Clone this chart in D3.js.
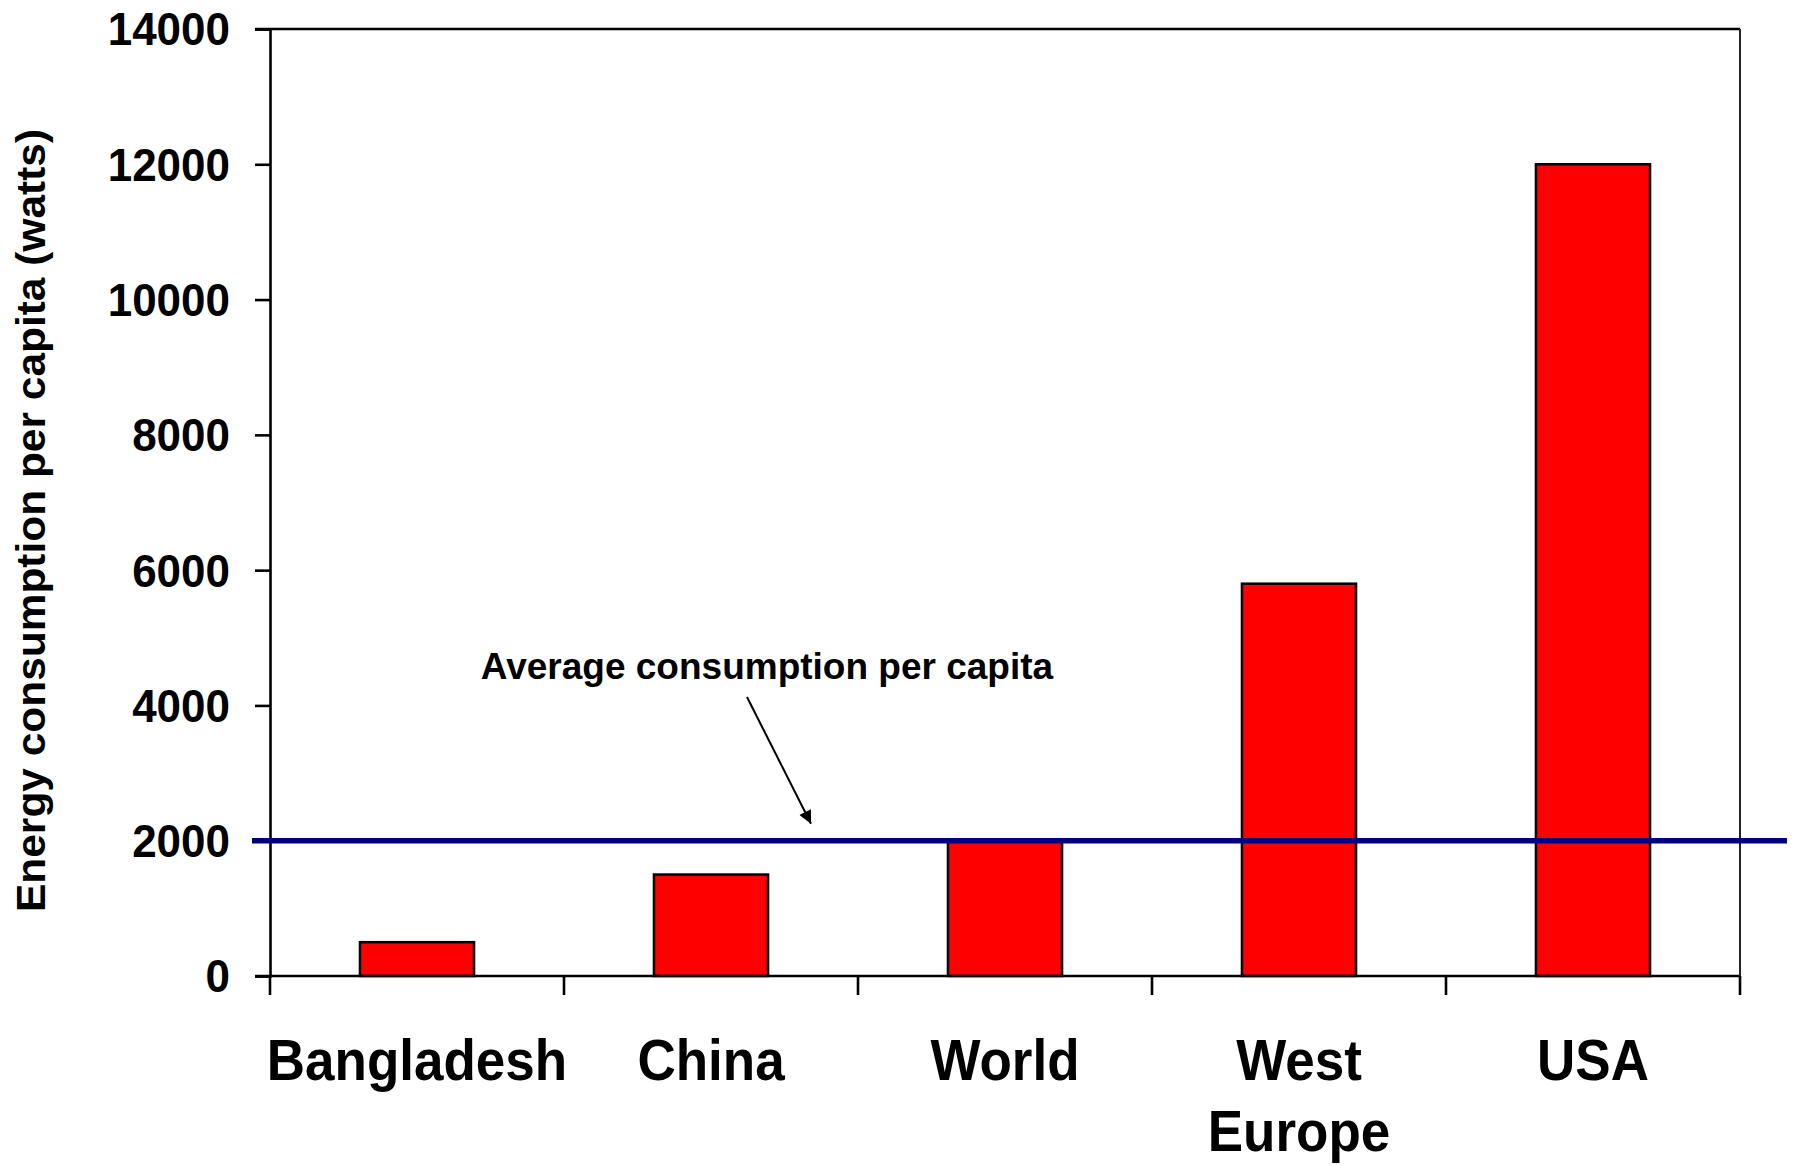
<!DOCTYPE html>
<html>
<head>
<meta charset="utf-8">
<script src="https://cdn.jsdelivr.net/npm/d3@7"></script>
<style>
  html, body { margin: 0; padding: 0; background: #fff; }
  svg { display: block; font-family: "Liberation Sans", Arial, Helvetica, sans-serif; font-weight: bold; }
</style>
</head>
<body>
<svg id="chart" width="1793" height="1166"></svg>
<script>
// ---- data ----
const categories = ["Bangladesh", "China", "World", "West Europe", "USA"];
const values = [500, 1500, 2000, 5800, 12000];
const yTicks = [0, 2000, 4000, 6000, 8000, 10000, 12000, 14000];
const averageValue = 2000;
const yTitle = "Energy consumption per capita (watts)";
const annotation = "Average consumption per capita";

// ---- layout ----
const L = 270, R = 1740, T = 29, B = 976;
const svg = d3.select("#chart");

const x = d3.scaleBand().domain(categories).range([L, R]).padding(0);
const y = d3.scaleLinear().domain([0, 14000]).range([B, T]);
const barW = x.bandwidth() * 0.388;

// bars
svg.append("g").selectAll("rect").data(categories).join("rect")
  .attr("x", d => x(d) + x.bandwidth() / 2 - barW / 2)
  .attr("y", (d, i) => y(values[i]))
  .attr("width", barW)
  .attr("height", (d, i) => y(0) - y(values[i]))
  .attr("fill", "#ff0000")
  .attr("stroke", "#000")
  .attr("stroke-width", 2.5);

// y axis
const yAxis = svg.append("g")
  .attr("transform", `translate(${L},0)`)
  .call(d3.axisLeft(y).tickValues(yTicks).tickSize(15).tickPadding(25).tickFormat(d3.format("d")));
yAxis.select(".domain").attr("stroke", "#000").attr("stroke-width", 2.6);
yAxis.selectAll(".tick line").attr("stroke", "#000").attr("stroke-width", 2.6);
yAxis.selectAll(".tick text")
  .attr("font-size", 44).attr("font-weight", "bold").attr("fill", "#000")
  .attr("font-family", '"Liberation Sans", Arial, sans-serif')
  .attr("dy", "0.34em")
  .attr("transform", "scale(1,1.06)");

// x axis line
svg.append("line").attr("x1", L - 15).attr("x2", R).attr("y1", B).attr("y2", B)
  .attr("stroke", "#000").attr("stroke-width", 2.6);
// x ticks at band edges
const edges = categories.map(c => x(c)).concat([x(categories[categories.length - 1]) + x.bandwidth()]);
svg.append("g").selectAll("line").data(edges).join("line")
  .attr("x1", d => d).attr("x2", d => d)
  .attr("y1", B).attr("y2", B + 19)
  .attr("stroke", "#000").attr("stroke-width", 2.6);

// frame: top and right
svg.append("line").attr("x1", L - 15).attr("x2", R).attr("y1", T).attr("y2", T)
  .attr("stroke", "#000").attr("stroke-width", 2.6);
svg.append("line").attr("x1", R).attr("x2", R).attr("y1", T).attr("y2", B)
  .attr("stroke", "#222").attr("stroke-width", 2);

// x labels
const xl = svg.append("g").selectAll("text").data(categories).join("text")
  .attr("transform", d => `translate(${x(d) + x.bandwidth() / 2},1080) scale(1,1.07)`)
  .attr("text-anchor", "middle")
  .attr("font-size", 53)
  .attr("fill", "#000");
xl.each(function(d) {
  const lines = d.split(" ");
  const t = d3.select(this);
  lines.forEach((ln, i) => {
    t.append("tspan").attr("x", 0).attr("y", i * 66.5).text(ln);
  });
});

// y title
svg.append("text")
  .attr("transform", "translate(45,520.5) rotate(-90)")
  .attr("text-anchor", "middle")
  .attr("font-size", 41)
  .attr("textLength", 783)
  .attr("lengthAdjust", "spacingAndGlyphs")
  .attr("fill", "#000")
  .text(yTitle);

// average line
svg.append("line")
  .attr("x1", 252).attr("x2", 1787)
  .attr("y1", y(averageValue)).attr("y2", y(averageValue))
  .attr("stroke", "#000080").attr("stroke-width", 5.5);

// annotation
svg.append("text")
  .attr("x", 767).attr("y", 679)
  .attr("text-anchor", "middle")
  .attr("font-size", 37)
  .attr("fill", "#000")
  .text(annotation);

svg.append("defs").append("marker")
  .attr("id", "arrow").attr("viewBox", "0 0 10 10")
  .attr("refX", 10).attr("refY", 5)
  .attr("markerWidth", 14).attr("markerHeight", 13)
  .attr("markerUnits", "userSpaceOnUse")
  .attr("orient", "auto")
  .append("path").attr("d", "M0,0 L10,5 L0,10 Z").attr("fill", "#000");

svg.append("line")
  .attr("x1", 747).attr("y1", 697)
  .attr("x2", 811).attr("y2", y(averageValue) - 17)
  .attr("stroke", "#000").attr("stroke-width", 2)
  .attr("marker-end", "url(#arrow)");
</script>
</body>
</html>
